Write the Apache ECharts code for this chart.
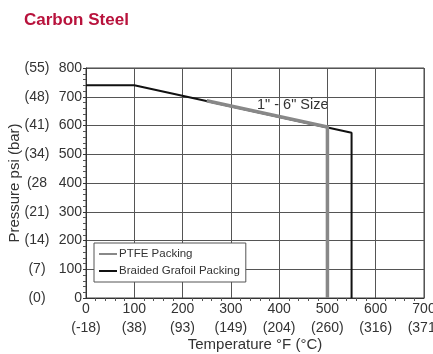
<!DOCTYPE html>
<html><head><meta charset="utf-8">
<script src="https://cdn.jsdelivr.net/npm/echarts@6/dist/echarts.min.js"></script>
<style>html,body{margin:0;padding:0;background:#fff}#c{width:433px;height:354px}</style>
</head><body><div id="c"></div>
<script>
const xTicksF = [0,100,200,300,400,500,600,700];
const xTicksC = ['(-18)','(38)','(93)','(149)','(204)','(260)','(316)','(371)'];
const yTicksPsi = [0,100,200,300,400,500,600,700,800];
const yTicksBar = ['(0)','(7)','(14)','(21)','(28','(34)','(41)','(48)','(55)'];
const ptfeTemp = [250,500,500];
const ptfePsi = [686,595,0];
const grafoilTemp = [0,100,550,550];
const grafoilPsi = [740,740,575,0];

const font = '"Liberation Sans", Arial, sans-serif';
const chart = echarts.init(document.getElementById('c'));
chart.setOption({
  animation:false,
  textStyle:{fontFamily:font},
  title:{text:'Carbon Steel',left:19,top:7,textStyle:{color:'#b8123c',fontSize:17,fontWeight:'bold',fontFamily:font}},
  grid:{left:86,right:9,top:68,bottom:56,show:true,borderColor:'#444',borderWidth:1,outerBoundsMode:'none',containLabel:false},
  legend:{orient:'vertical',left:94,top:243,backgroundColor:'#fff',borderColor:'#555',borderWidth:1,
    padding:[5,6,5,5],itemGap:5,itemWidth:18,itemHeight:2,icon:'rect',
    textStyle:{fontSize:11.5,color:'#333',fontFamily:font,padding:[0,0,0,-3]},
    data:['PTFE Packing','Braided Grafoil Packing']},
  xAxis:{type:'value',min:0,max:700,interval:100,
    name:'Temperature °F (°C)',nameLocation:'middle',nameGap:39,nameMoveOverlap:false,
    nameTextStyle:{fontSize:15,color:'#333',fontFamily:font},
    axisLine:{lineStyle:{color:'#333'}},
    axisTick:{show:false},
    minorTick:{show:true,splitNumber:5,length:3,lineStyle:{color:'#555'}},
    splitLine:{lineStyle:{color:'#555',width:1}},
    axisLabel:{fontSize:14,color:'#333',lineHeight:19,margin:2,
      formatter:v=>{const i=xTicksF.indexOf(v);return i<0?'':v+'\n'+xTicksC[i];}}},
  yAxis:{type:'value',min:0,max:800,interval:100,
    name:'Pressure psi (bar)',nameLocation:'middle',nameGap:64,nameMoveOverlap:false,
    nameTextStyle:{fontSize:15,color:'#333',fontFamily:font},
    axisLine:{lineStyle:{color:'#333'}},
    axisTick:{show:true,length:3,lineStyle:{color:'#333'}},
    minorTick:{show:true,splitNumber:5,length:3,lineStyle:{color:'#555'}},
    splitLine:{lineStyle:{color:'#555',width:1}},
    axisLabel:{fontSize:14,color:'#333',margin:4,
      formatter:v=>{const i=yTicksPsi.indexOf(v);return i<0?'':'{a|'+yTicksBar[i]+'}{b|'+v+'}';},
      rich:{a:{width:30,align:'center',fontSize:14,color:'#333',fontFamily:font},
            b:{width:30,align:'right',fontSize:14,color:'#333',fontFamily:font}}}},
  graphic:[{type:'text',left:257,top:97,style:{text:'1" - 6" Size',fontSize:14.5,fill:'#333',fontFamily:font}}],
  series:[
    {name:'Braided Grafoil Packing',type:'line',showSymbol:false,z:2,
      data:grafoilTemp.map((t,i)=>[t,grafoilPsi[i]]),
      lineStyle:{color:'#111',width:2},itemStyle:{color:'#111'}},
    {name:'PTFE Packing',type:'line',showSymbol:false,z:3,
      data:ptfeTemp.map((t,i)=>[t,ptfePsi[i]]),
      lineStyle:{color:'#888',width:3.5},itemStyle:{color:'#888'}}
  ]
});
</script></body></html>
